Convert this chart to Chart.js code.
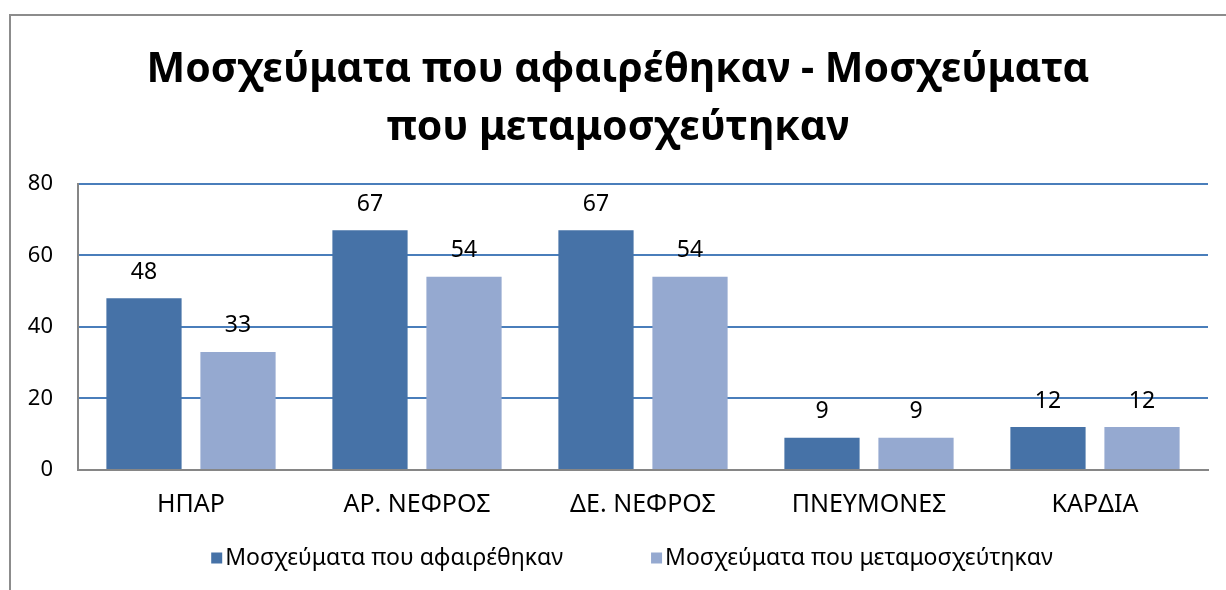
<!DOCTYPE html>
<html>
<head>
<meta charset="utf-8">
<script src="https://cdn.jsdelivr.net/npm/chart.js@4"></script>
<style>
  body { margin: 0; background: #fff; }
  #wrap { position: relative; width: 1226px; height: 590px; overflow: hidden; }
  #frame { position: absolute; left: 9px; top: 14px; width: 1300px; height: 700px; border: 2px solid #8c8c8c; pointer-events: none; }
</style>
</head>
<body>
<div id="wrap">
  <canvas id="organChart" width="1226" height="590"></canvas>
  <div id="frame"></div>
</div>
<script>
const categories = ['ΗΠΑΡ', 'ΑΡ. ΝΕΦΡΟΣ', 'ΔΕ. ΝΕΦΡΟΣ', 'ΠΝΕΥΜΟΝΕΣ', 'ΚΑΡΔΙΑ'];
const removedValues = [48, 67, 67, 9, 12];
const transplantedValues = [33, 54, 54, 9, 12];
const yTicks = [0, 20, 40, 60, 80];

const fontFamily = '"Noto Sans", sans-serif';

// value above each bar
const valueLabels = {
    id: 'valueLabels',
    afterDatasetsDraw(chart) {
        const ctx = chart.ctx;
        ctx.save();
        ctx.font = '23px ' + fontFamily;
        ctx.fillStyle = '#000';
        ctx.textAlign = 'center';
        ctx.textBaseline = 'middle';
        chart.data.datasets.forEach(function(ds, i) {
            chart.getDatasetMeta(i).data.forEach(function(bar, j) {
                ctx.fillText(ds.data[j], bar.x, bar.y - 26);
            });
        });
        ctx.restore();
    }
};

// legend drawn by hand so the gap between items can be wide
const bottomLegend = {
    id: 'bottomLegend',
    afterDraw(chart) {
        const ctx = chart.ctx;
        const box = 11, gap = 3, itemGap = 88;
        ctx.save();
        ctx.font = '23px ' + fontFamily;
        ctx.textBaseline = 'middle';
        const items = chart.data.datasets.map(function(ds) {
            return { text: ds.label, color: ds.backgroundColor, w: box + gap + ctx.measureText(ds.label).width };
        });
        const total = items.reduce(function(s, it) { return s + it.w; }, 0) + itemGap * (items.length - 1);
        let x = 632 - total / 2;
        const y = chart.height - 32;
        items.forEach(function(it) {
            ctx.fillStyle = it.color;
            ctx.fillRect(x, y - box / 2, box, box);
            ctx.fillStyle = '#000';
            ctx.fillText(it.text, x + box + gap, y);
            x += it.w + itemGap;
        });
        ctx.restore();
    }
};

const ctx = document.getElementById('organChart').getContext('2d');

new Chart(ctx, {
    type: 'bar',
    data: {
        labels: categories,
        datasets: [{
            label: 'Μοσχεύματα που αφαιρέθηκαν',
            data: removedValues,
            backgroundColor: '#4672a7',
            categoryPercentage: 0.832,
            barPercentage: 0.8
        }, {
            label: 'Μοσχεύματα που μεταμοσχεύτηκαν',
            data: transplantedValues,
            backgroundColor: '#95a9d0',
            categoryPercentage: 0.832,
            barPercentage: 0.8
        }]
    },
    options: {
        responsive: false,
        animation: false,
        layout: {
            padding: { top: 14, left: 28, right: 18, bottom: 50 }
        },
        plugins: {
            title: {
                display: true,
                text: ['Μοσχεύματα που αφαιρέθηκαν - Μοσχεύματα', 'που μεταμοσχεύτηκαν'],
                color: '#000',
                font: { family: fontFamily, size: 41, weight: 'bold', lineHeight: 1.4 },
                padding: { top: 28, bottom: 27 }
            },
            legend: { display: false },
            tooltip: { enabled: false }
        },
        scales: {
            x: {
                grid: { display: false, drawTicks: false },
                border: { color: '#868686', width: 2 },
                ticks: { color: '#000', font: { family: fontFamily, size: 25 }, padding: 20 }
            },
            y: {
                min: 0,
                max: 80,
                afterBuildTicks: function(axis) {
                    axis.ticks = yTicks.map(function(v) { return { value: v }; });
                },
                afterFit: function(axis) { axis.width = 50; },
                grid: {
                    drawTicks: false,
                    lineWidth: 2,
                    color: function(c) { return c.tick.value === 0 ? 'rgba(0,0,0,0)' : '#4a7ebb'; }
                },
                border: { color: '#868686', width: 2 },
                ticks: { color: '#000', font: { family: fontFamily, size: 22 }, padding: 25 }
            }
        }
    },
    plugins: [valueLabels, bottomLegend]
});
</script>
</body>
</html>
